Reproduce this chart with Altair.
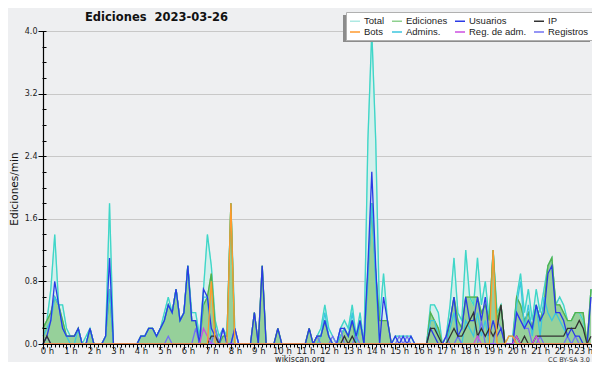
import altair as alt
import pandas as pd

# ---------------- data (10-minute steps, edits per minute) ----------------
hour_ticks = list(range(24))
y_major = [0.0, 0.8, 1.6, 2.4, 3.2, 4.0]
y_minor = [round(0.2 * k, 1) for k in range(21)]

# legend is filled column by column (2 rows x 4 columns)
series_names = ["Total", "Bots", "Ediciones", "Admins.", "Usuarios", "Reg. de adm.", "IP", "Registros"]
legend_colors = ["#aee9e3", "#ff9a2e", "#8fd08f", "#3cc6de", "#2b3be6", "#cc4fe0", "#333333", "#7272f2"]

total = [
    0.2, 0.3, 0.7, 1.4, 0.5, 0.5,   # 0 h
    0.2, 0.1, 0.1, 0.2, 0.0, 0.1,   # 1 h
    0.2, 0.0, 0.0, 0.0, 0.1, 1.8,   # 2 h
    0.0, 0.0, 0.0, 0.0, 0.0, 0.0,   # 3 h
    0.0, 0.1, 0.1, 0.2, 0.2, 0.1,   # 4 h
    0.2, 0.4, 0.6, 0.4, 0.7, 0.3,   # 5 h
    0.4, 1.0, 0.4, 0.4, 0.1, 0.7,   # 6 h
    1.4, 1.0, 0.3, 0.1, 0.2, 0.1,   # 7 h
    1.8, 0.2, 0.0, 0.0, 0.0, 0.0,   # 8 h
    0.4, 0.0, 1.0, 0.0, 0.0, 0.0,   # 9 h
    0.2, 0.0, 0.0, 0.0, 0.0, 0.0,   # 10 h
    0.0, 0.0, 0.2, 0.0, 0.1, 0.2,   # 11 h
    0.5, 0.2, 0.1, 0.0, 0.2, 0.3,   # 12 h
    0.2, 0.5, 0.1, 0.4, 0.0, 2.6,   # 13 h
    4.0, 2.6, 0.3, 0.9, 0.3, 0.0,   # 14 h
    0.1, 0.1, 0.1, 0.1, 0.1, 0.0,   # 15 h
    0.0, 0.0, 0.0, 0.5, 0.5, 0.4,   # 16 h
    0.0, 0.1, 0.5, 1.1, 0.4, 0.3,   # 17 h
    1.2, 0.6, 0.5, 1.1, 0.5, 0.8,   # 18 h
    0.3, 1.2, 0.4, 0.5, 0.0, 0.1,   # 19 h
    0.1, 0.6, 0.9, 0.4, 0.7, 0.3,   # 20 h
    0.7, 0.4, 0.7, 1.0, 1.1, 0.5,   # 21 h
    0.6, 0.5, 0.3, 0.3, 0.4, 0.4,   # 22 h
    0.3, 0.0, 0.7,                  # 23 h
]

edits = [
    0.2, 0.3, 0.4, 0.6, 0.5, 0.3,
    0.1, 0.1, 0.1, 0.2, 0.0, 0.0,
    0.2, 0.0, 0.0, 0.0, 0.1, 0.7,
    0.0, 0.0, 0.0, 0.0, 0.0, 0.0,
    0.0, 0.1, 0.1, 0.2, 0.2, 0.1,
    0.2, 0.3, 0.5, 0.4, 0.7, 0.3,
    0.4, 1.0, 0.3, 0.3, 0.0, 0.5,
    0.6, 0.9, 0.2, 0.0, 0.1, 0.1,
    1.8, 0.0, 0.0, 0.0, 0.0, 0.0,
    0.4, 0.0, 1.0, 0.0, 0.0, 0.0,
    0.2, 0.0, 0.0, 0.0, 0.0, 0.0,
    0.0, 0.0, 0.2, 0.0, 0.1, 0.1,
    0.3, 0.1, 0.0, 0.0, 0.1, 0.2,
    0.1, 0.3, 0.0, 0.3, 0.0, 0.9,
    1.8, 0.9, 0.3, 0.3, 0.3, 0.0,
    0.0, 0.0, 0.0, 0.0, 0.0, 0.0,
    0.0, 0.0, 0.0, 0.4, 0.3, 0.2,
    0.0, 0.0, 0.3, 0.6, 0.3, 0.2,
    0.6, 0.6, 0.6, 0.6, 0.4, 0.5,
    0.3, 1.2, 0.3, 0.5, 0.0, 0.0,
    0.0, 0.6, 0.5, 0.3, 0.4, 0.2,
    0.5, 0.3, 0.5, 1.0, 1.1, 0.5,
    0.5, 0.4, 0.3, 0.3, 0.4, 0.4,
    0.4, 0.0, 0.7,
]

users = [
    0.0, 0.1, 0.3, 0.8, 0.5, 0.2,
    0.1, 0.1, 0.1, 0.2, 0.0, 0.0,
    0.2, 0.0, 0.0, 0.0, 0.1, 1.1,
    0.0, 0.0, 0.0, 0.0, 0.0, 0.0,
    0.0, 0.1, 0.1, 0.2, 0.2, 0.1,
    0.2, 0.3, 0.5, 0.4, 0.7, 0.3,
    0.4, 1.0, 0.3, 0.3, 0.0, 0.7,
    0.6, 0.2, 0.1, 0.0, 0.2, 0.0,
    0.0, 0.2, 0.0, 0.0, 0.0, 0.0,
    0.4, 0.0, 1.0, 0.0, 0.0, 0.0,
    0.2, 0.0, 0.0, 0.0, 0.0, 0.0,
    0.0, 0.0, 0.2, 0.0, 0.1, 0.1,
    0.3, 0.1, 0.0, 0.0, 0.2, 0.2,
    0.1, 0.3, 0.1, 0.3, 0.0, 1.0,
    2.2, 1.0, 0.0, 0.6, 0.3, 0.0,
    0.1, 0.0, 0.1, 0.0, 0.1, 0.0,
    0.0, 0.0, 0.0, 0.2, 0.1, 0.0,
    0.0, 0.1, 0.3, 0.6, 0.1, 0.2,
    0.6, 0.3, 0.3, 0.6, 0.3, 0.6,
    0.1, 0.3, 0.1, 0.2, 0.0, 0.0,
    0.0, 0.4, 0.3, 0.2, 0.3, 0.2,
    0.5, 0.3, 0.4, 0.9, 1.0, 0.4,
    0.4, 0.3, 0.1, 0.2, 0.1, 0.1,
    0.0, 0.0, 0.6,
]

ip = [
    0.0, 0.1, 0.0, 0.0, 0.0, 0.0,
    0.0, 0.0, 0.0, 0.0, 0.0, 0.0,
    0.0, 0.0, 0.0, 0.0, 0.0, 0.0,
    0.0, 0.0, 0.0, 0.0, 0.0, 0.0,
    0.0, 0.0, 0.0, 0.0, 0.0, 0.0,
    0.0, 0.0, 0.0, 0.0, 0.0, 0.0,
    0.0, 0.0, 0.0, 0.0, 0.0, 0.0,
    0.0, 0.1, 0.1, 0.0, 0.0, 0.0,
    0.0, 0.0, 0.0, 0.0, 0.0, 0.0,
    0.0, 0.0, 0.0, 0.0, 0.0, 0.0,
    0.0, 0.0, 0.0, 0.0, 0.0, 0.0,
    0.0, 0.0, 0.0, 0.0, 0.0, 0.0,
    0.0, 0.0, 0.0, 0.0, 0.0, 0.1,
    0.0, 0.1, 0.0, 0.0, 0.0, 0.0,
    0.0, 0.0, 0.0, 0.0, 0.0, 0.0,
    0.0, 0.0, 0.0, 0.0, 0.0, 0.0,
    0.0, 0.0, 0.0, 0.2, 0.2, 0.1,
    0.0, 0.0, 0.1, 0.2, 0.1, 0.1,
    0.2, 0.3, 0.4, 0.1, 0.2, 0.1,
    0.2, 0.1, 0.2, 0.5, 0.0, 0.0,
    0.0, 0.1, 0.0, 0.1, 0.0, 0.0,
    0.1, 0.1, 0.1, 0.1, 0.1, 0.1,
    0.1, 0.1, 0.2, 0.2, 0.2, 0.3,
    0.2, 0.0, 0.1,
]

bots = [
    0.0, 0.0, 0.0, 0.0, 0.0, 0.0,
    0.0, 0.0, 0.0, 0.0, 0.0, 0.0,
    0.0, 0.0, 0.0, 0.0, 0.0, 0.0,
    0.0, 0.0, 0.0, 0.0, 0.0, 0.0,
    0.0, 0.0, 0.0, 0.0, 0.0, 0.0,
    0.0, 0.0, 0.0, 0.0, 0.0, 0.0,
    0.0, 0.0, 0.0, 0.0, 0.0, 0.0,
    0.0, 0.8, 0.0, 0.0, 0.0, 0.0,
    1.8, 0.0, 0.0, 0.0, 0.0, 0.0,
    0.0, 0.0, 0.0, 0.0, 0.0, 0.0,
    0.0, 0.0, 0.0, 0.0, 0.0, 0.0,
    0.0, 0.0, 0.0, 0.0, 0.0, 0.0,
    0.0, 0.0, 0.0, 0.0, 0.0, 0.0,
    0.0, 0.0, 0.0, 0.0, 0.0, 0.0,
    0.0, 0.0, 0.0, 0.0, 0.0, 0.0,
    0.0, 0.0, 0.0, 0.0, 0.0, 0.0,
    0.0, 0.0, 0.0, 0.0, 0.0, 0.0,
    0.0, 0.0, 0.0, 0.0, 0.0, 0.0,
    0.0, 0.0, 0.0, 0.0, 0.0, 0.0,
    0.0, 1.2, 0.0, 0.0, 0.0, 0.1,
    0.1, 0.0, 0.0, 0.0, 0.0, 0.0,
    0.0, 0.0, 0.0, 0.0, 0.0, 0.0,
    0.0, 0.0, 0.0, 0.0, 0.0, 0.0,
    0.0, 0.0, 0.0,
]

admins = [
    0.1, 0.2, 0.3, 0.6, 0.5, 0.2,
    0.1, 0.0, 0.0, 0.2, 0.0, 0.0,
    0.2, 0.0, 0.0, 0.0, 0.1, 0.7,
    0.0, 0.0, 0.0, 0.0, 0.0, 0.0,
    0.0, 0.1, 0.1, 0.2, 0.2, 0.1,
    0.2, 0.3, 0.5, 0.4, 0.7, 0.3,
    0.4, 1.0, 0.3, 0.3, 0.0, 0.6,
    0.6, 0.0, 0.0, 0.0, 0.0, 0.0,
    0.0, 0.0, 0.0, 0.0, 0.0, 0.0,
    0.0, 0.0, 0.0, 0.0, 0.0, 0.0,
    0.0, 0.0, 0.0, 0.0, 0.0, 0.0,
    0.0, 0.0, 0.0, 0.0, 0.0, 0.1,
    0.4, 0.1, 0.0, 0.0, 0.1, 0.2,
    0.1, 0.4, 0.0, 0.3, 0.0, 0.8,
    1.8, 0.8, 0.0, 0.0, 0.0, 0.0,
    0.0, 0.0, 0.0, 0.0, 0.0, 0.0,
    0.0, 0.0, 0.0, 0.3, 0.3, 0.1,
    0.0, 0.0, 0.2, 0.4, 0.1, 0.0,
    0.3, 0.2, 0.1, 0.4, 0.1, 0.3,
    0.0, 0.0, 0.0, 0.0, 0.0, 0.0,
    0.0, 0.5, 0.8, 0.2, 0.5, 0.1,
    0.5, 0.1, 0.6, 0.4, 0.3, 0.4,
    0.3, 0.2, 0.1, 0.0, 0.0, 0.0,
    0.0, 0.0, 0.0,
]

regadm = [
    0.0, 0.0, 0.0, 0.0, 0.0, 0.0,
    0.0, 0.0, 0.0, 0.0, 0.0, 0.0,
    0.0, 0.0, 0.0, 0.0, 0.0, 0.0,
    0.0, 0.0, 0.0, 0.0, 0.0, 0.0,
    0.0, 0.0, 0.0, 0.0, 0.0, 0.0,
    0.0, 0.0, 0.0, 0.0, 0.0, 0.0,
    0.0, 0.0, 0.0, 0.0, 0.0, 0.2,
    0.1, 0.0, 0.0, 0.0, 0.0, 0.0,
    0.0, 0.0, 0.0, 0.0, 0.0, 0.0,
    0.0, 0.0, 0.0, 0.0, 0.0, 0.0,
    0.0, 0.0, 0.0, 0.0, 0.0, 0.0,
    0.0, 0.0, 0.0, 0.0, 0.0, 0.0,
    0.0, 0.0, 0.0, 0.0, 0.0, 0.0,
    0.0, 0.0, 0.0, 0.0, 0.0, 0.0,
    0.0, 0.0, 0.0, 0.0, 0.0, 0.0,
    0.0, 0.0, 0.0, 0.0, 0.0, 0.0,
    0.0, 0.0, 0.0, 0.0, 0.0, 0.0,
    0.0, 0.0, 0.0, 0.0, 0.0, 0.0,
    0.0, 0.0, 0.0, 0.1, 0.0, 0.0,
    0.0, 0.0, 0.0, 0.0, 0.0, 0.0,
    0.0, 0.1, 0.0, 0.0, 0.0, 0.0,
    0.1, 0.0, 0.0, 0.0, 0.0, 0.0,
    0.0, 0.0, 0.0, 0.0, 0.0, 0.0,
    0.0, 0.0, 0.0,
]

registros = [
    0.0, 0.1, 0.0, 0.0, 0.0, 0.0,
    0.0, 0.0, 0.0, 0.0, 0.0, 0.0,
    0.0, 0.0, 0.0, 0.0, 0.0, 0.0,
    0.0, 0.0, 0.0, 0.0, 0.0, 0.0,
    0.0, 0.0, 0.0, 0.0, 0.0, 0.0,
    0.0, 0.0, 0.1, 0.0, 0.0, 0.0,
    0.0, 0.0, 0.0, 0.2, 0.0, 0.0,
    0.0, 0.0, 0.2, 0.0, 0.2, 0.0,
    0.0, 0.2, 0.0, 0.0, 0.0, 0.0,
    0.0, 0.0, 0.0, 0.0, 0.0, 0.0,
    0.0, 0.0, 0.0, 0.0, 0.0, 0.0,
    0.0, 0.0, 0.0, 0.0, 0.1, 0.0,
    0.0, 0.0, 0.1, 0.0, 0.2, 0.0,
    0.0, 0.0, 0.1, 0.0, 0.0, 0.0,
    0.0, 0.0, 0.0, 0.0, 0.0, 0.0,
    0.0, 0.1, 0.0, 0.1, 0.0, 0.0,
    0.0, 0.0, 0.0, 0.0, 0.0, 0.0,
    0.0, 0.1, 0.0, 0.0, 0.1, 0.0,
    0.0, 0.0, 0.0, 0.0, 0.3, 0.0,
    0.0, 0.0, 0.3, 0.2, 0.0, 0.0,
    0.0, 0.4, 0.3, 0.2, 0.2, 0.0,
    0.0, 0.1, 0.0, 0.0, 0.0, 0.0,
    0.0, 0.0, 0.1, 0.0, 0.1, 0.0,
    0.0, 0.0, 0.0,
]

title_text = ["Ediciones\u00a0\u00a02023-03-26"]
y_title_text = ["Ediciones/min"]
footer_text = ["wikiscan.org"]
license_text = ["CC BY-SA 3.0"]

# ---------------- tables ----------------
n = len(total)
steps = [i / 6 for i in range(n)]
wide = pd.DataFrame({"h": steps, "total": total, "edits": edits})
series_by_name = {
    "Total": total, "Ediciones": edits, "Usuarios": users, "IP": ip,
    "Bots": bots, "Admins.": admins, "Reg. de adm.": regadm, "Registros": registros,
}
rows = []
for name, vals in series_by_name.items():
    for i, v in enumerate(vals):
        rows.append({"h": i / 6, "serie": name, "v": v})
long = pd.DataFrame(rows)
minor_x = [round(i / 6, 4) for i in range(n)]

FONT = "DejaVu Sans"
x_scale = alt.Scale(domain=[0, (n - 1) / 6], nice=False, zero=False)
y_scale = alt.Scale(domain=[0, 4], nice=False, zero=True)
color_scale = alt.Scale(domain=series_names, range=legend_colors)

legend = alt.Legend(
    orient="none", legendX=303, legendY=-19, columns=4, title=None,
    symbolType="stroke", symbolSize=100, symbolStrokeWidth=1.5,
    labelFont="Liberation Sans", labelFontSize=9.5,
    labelColor="#222222", labelOffset=3, rowPadding=0, columnPadding=4,
    padding=3, fillColor="#ffffff", strokeColor="#b0b0b0",
)

x_major_axis = alt.Axis(
    orient="bottom", values=hour_ticks, labelExpr="datum.value + ' h'",
    labelFont=FONT, labelFontSize=8.5, labelColor="#222222", labelPadding=-3,
    labelOffset={"condition": {"test": "datum.value == 23", "value": 0}, "value": 4},
    labelFlush=False, labelOverlap=False, tickSize=5,
    tickColor="#000000", domainColor="#000000", domainWidth=1.2, grid=False,
    title=None, zindex=2,
)
x_minor_axis = alt.Axis(
    orient="bottom", values=minor_x, labels=False, tickSize=3,
    tickColor="#000000", domain=False, grid=False, title=None, zindex=2,
)
y_major_axis = alt.Axis(
    orient="left", values=y_major, format=".1f", labelFont=FONT,
    labelFontSize=8, labelColor="#222222", labelPadding=1, tickSize=5,
    tickColor="#000000", domainColor="#000000", domainWidth=1.2, grid=False,
    title=None, zindex=2,
)
y_grid_axis = alt.Axis(
    orient="left", values=y_major, labels=False, ticks=False, domain=False,
    grid=True, gridColor="#c8c8c8", gridWidth=1, title=None, zindex=0,
)
y_minor_axis = alt.Axis(
    orient="left", values=y_minor, labels=False, tickSize=4, offset=-3,
    tickColor="#000000", domain=False, grid=False, title=None, zindex=2,
)

area_total = alt.Chart(wide).mark_area(color="#d4efec", opacity=1).encode(
    x=alt.X("h:Q", scale=x_scale, axis=x_major_axis),
    y=alt.Y("total:Q", scale=y_scale, axis=y_major_axis),
)
area_edits = alt.Chart(wide).mark_area(color="#92cd96", opacity=0.95).encode(
    x=alt.X("h:Q", scale=x_scale, axis=None),
    y=alt.Y("edits:Q", scale=y_scale, axis=y_grid_axis),
)


def series_line(name, width=1.3):
    return alt.Chart(long).transform_filter(
        alt.FieldEqualPredicate(field="serie", equal=name)
    ).mark_line(strokeWidth=width).encode(
        x=alt.X("h:Q", scale=x_scale, axis=None),
        y=alt.Y("v:Q", scale=y_scale, axis=None),
        color=alt.Color("serie:N", scale=color_scale, legend=legend),
    )


total_line = alt.Chart(wide).mark_line(color="#3fd6c8", strokeWidth=1.3).encode(
    x=alt.X("h:Q", scale=x_scale, axis=x_minor_axis),
    y=alt.Y("total:Q", scale=y_scale, axis=y_minor_axis),
)
edits_line = alt.Chart(wide).mark_line(color="#4fb24f", strokeWidth=1.3).encode(
    x=alt.X("h:Q", scale=x_scale, axis=None),
    y=alt.Y("edits:Q", scale=y_scale, axis=None),
)

shadow = alt.Chart(pd.DataFrame({"k": [0]})).mark_rect(color="#8c8c8c").encode(
    x=alt.value(300), x2=alt.value(547), y=alt.value(-16), y2=alt.value(11)
)

title = alt.Chart(pd.DataFrame({"label": title_text})).mark_text(
    align="left", baseline="alphabetic", font=FONT, fontWeight="bold",
    fontSize=11.5, color="#111111",
).encode(text="label:N", x=alt.value(42), y=alt.value(-10))

y_title = alt.Chart(pd.DataFrame({"label": y_title_text})).mark_text(
    align="center", baseline="middle", angle=270, font=FONT, fontSize=10.5,
    color="#111111",
).encode(text="label:N", x=alt.value(-28), y=alt.value(158))

footer = alt.Chart(pd.DataFrame({"label": footer_text})).mark_text(
    align="center", baseline="alphabetic", font=FONT, fontSize=8,
    color="#222222",
).encode(text="label:N", x=alt.value(257), y=alt.value(330.5))

lic = alt.Chart(pd.DataFrame({"label": license_text})).mark_text(
    align="right", baseline="alphabetic", font=FONT, fontSize=6.5,
    color="#333333",
).encode(text="label:N", x=alt.value(547), y=alt.value(330.5))

layers = [
    area_total,
    area_edits,
    series_line("Total"),
    total_line,
    series_line("Ediciones"),
    edits_line,
    series_line("Admins."),
    series_line("Registros"),
    series_line("Usuarios"),
    series_line("IP"),
    series_line("Reg. de adm."),
    series_line("Bots"),
    shadow,
    title,
    y_title,
    footer,
    lic,
]

chart = alt.layer(*layers).resolve_axis(
    x="independent", y="independent"
).properties(
    width=548,
    height=313,
    autosize=alt.AutoSizeParams(type="none"),
    padding={"left": 35, "top": 23, "right": 1, "bottom": 18},
    background="#eeeff1",
).configure_view(stroke=None)

chart.save("out.html", embed_options={"renderer": "svg", "actions": False})
